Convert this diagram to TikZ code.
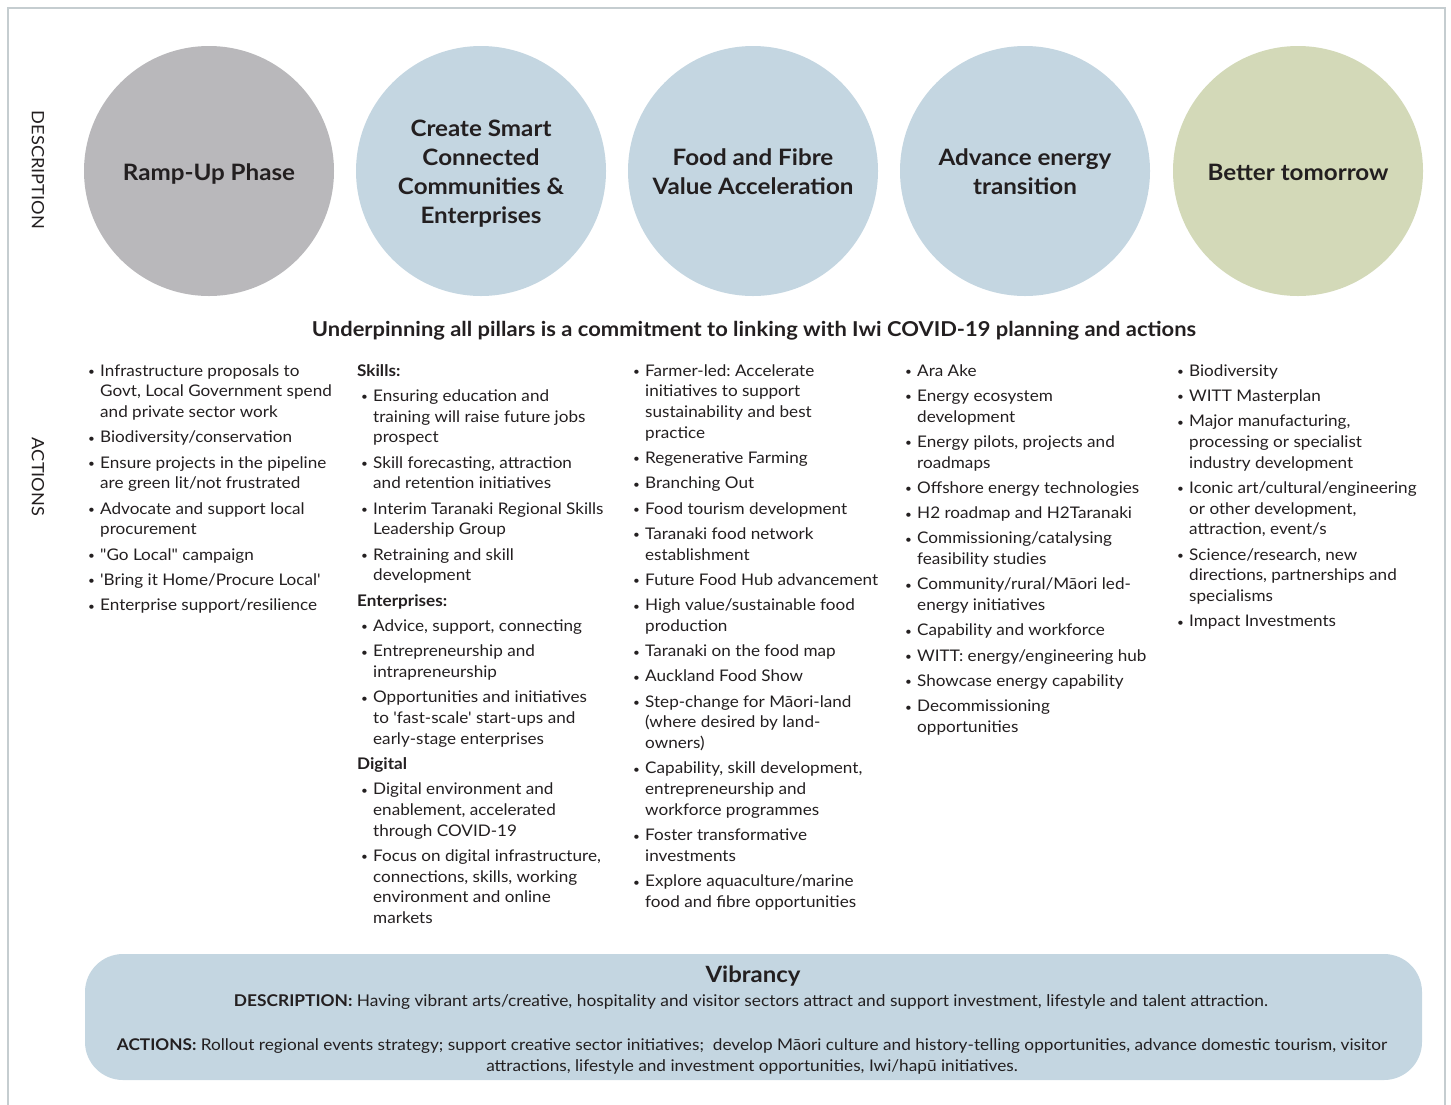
\documentclass[tikz,border=0pt]{standalone}
\usepackage{fontspec}
\newfontfamily\lat{Lato}[FakeStretch=1.07]
\definecolor{txt}{HTML}{231F20}
\definecolor{greyc}{HTML}{B9B8BB}
\definecolor{bluec}{HTML}{C4D6E1}
\definecolor{greenc}{HTML}{D3D9B8}
\definecolor{framec}{HTML}{C5CDD0}
\frenchspacing
\newcommand\bul{\makebox[16pt][l]{\hspace{4pt}\raisebox{0.6pt}{\fontsize{11}{11}\selectfont •}}}
\newcommand\itm[1]{\par\hangindent=16pt\hangafter=1\noindent\bul#1}
\newcommand\hdr[1]{\par\noindent\textbf{#1}}
\newcommand\colbox[1]{\parbox[t]{265pt}{\frenchspacing\fontsize{16}{20.7}\selectfont\parskip=4.6pt\raggedright#1\par}}
\begin{document}
\begin{tikzpicture}[x=1pt,y=-1pt,
  every node/.style={font=\lat, text=txt, inner sep=0pt},
  pillar/.style={circle, minimum size=250pt},
  pillartxt/.style={align=center, font=\lat\bfseries\fontsize{22.6}{29}\selectfont},
  sidelbl/.style={rotate=-90, font=\lat\fontsize{17}{20}\selectfont},
  listcol/.style={anchor=base west}]
\useasboundingbox (0,0) rectangle (1451,1104);
\draw[framec, line width=1.3pt] (8,1110) -- (8,8) -- (1445,8) -- (1445,1110);

\node[sidelbl] (sdesc) at (38,170) {DESCRIPTION};
\node[sidelbl] (sact) at (38,477) {ACTIONS};

\node[pillar, fill=greyc] (c1) at (209,171) {};
\node[pillar, fill=bluec] (c2) at (481,171) {};
\node[pillar, fill=bluec] (c3) at (753,171) {};
\node[pillar, fill=bluec] (c4) at (1025,171) {};
\node[pillar, fill=greenc] (c5) at (1298,171) {};
\node[pillartxt] (t1) at ([yshift=-2.5pt]c1.center) {Ramp-Up Phase};
\node[pillartxt] (t2) at ([yshift=-3pt]c2.center) {Create Smart\\Connected\\Communities \&\\Enterprises};
\node[pillartxt] (t3) at ([yshift=-0.5pt]c3.center) {Food and Fibre\\Value Acceleration};
\node[pillartxt] (t4) at ([yshift=-0.5pt]c4.center) {Advance energy\\transition};
\node[pillartxt] (t5) at ([yshift=-1.5pt]c5.center) {Better tomorrow};

\node[font=\lat\bfseries\fontsize{20.5}{24}\selectfont] (under) at (754,331) {Underpinning all pillars is a commitment to linking with Iwi COVID-19 planning and actions};

\node[listcol] (l1) at (84,376) {\colbox{%
\itm{Infrastructure proposals to\newline Govt, Local Government spend\newline and private sector work}
\itm{Biodiversity/conservation}
\itm{Ensure projects in the pipeline\newline are green lit/not frustrated}
\itm{Advocate and support local\newline procurement}
\itm{"Go Local" campaign}
\itm{'Bring it Home/Procure Local'}
\itm{Enterprise support/resilience}}};

\node[listcol] (l2) at (357,376) {\colbox{%
\hdr{Skills:}
\itm{Ensuring education and\newline training will raise future jobs\newline prospect}
\itm{Skill forecasting, attraction\newline and retention initiatives}
\itm{Interim Taranaki Regional Skills\newline Leadership Group}
\itm{Retraining and skill\newline development}
\hdr{Enterprises:}
\itm{Advice, support, connecting}
\itm{Entrepreneurship and\newline intrapreneurship}
\itm{Opportunities and initiatives\newline to 'fast-scale' start-ups and\newline early-stage enterprises}
\hdr{Digital}
\itm{Digital environment and\newline enablement, accelerated\newline through COVID-19}
\itm{Focus on digital infrastructure,\newline connections, skills, working\newline environment and online\newline markets}}};

\node[listcol] (l3) at (629,376) {\colbox{%
\itm{Farmer-led: Accelerate\newline initiatives to support\newline sustainability and best\newline practice}
\itm{Regenerative Farming}
\itm{Branching Out}
\itm{Food tourism development}
\itm{Taranaki food network\newline establishment}
\itm{Future Food Hub advancement}
\itm{High value/sustainable food\newline production}
\itm{Taranaki on the food map}
\itm{Auckland Food Show}
\itm{Step-change for Māori-land\newline (where desired by land-\newline owners)}
\itm{Capability, skill development,\newline entrepreneurship and\newline workforce programmes}
\itm{Foster transformative\newline investments}
\itm{Explore aquaculture/marine\newline food and fibre opportunities}}};

\node[listcol] (l4) at (901,376) {\colbox{%
\itm{Ara Ake}
\itm{Energy ecosystem\newline development}
\itm{Energy pilots, projects and\newline roadmaps}
\itm{Offshore energy technologies}
\itm{H2 roadmap and H2Taranaki}
\itm{Commissioning/catalysing\newline feasibility studies}
\itm{Community/rural/Māori led-\newline energy initiatives}
\itm{Capability and workforce}
\itm{WITT: energy/engineering hub}
\itm{Showcase energy capability}
\itm{Decommissioning\newline opportunities}}};

\node[listcol] (l5) at (1173,376) {\colbox{%
\itm{Biodiversity}
\itm{WITT Masterplan}
\itm{Major manufacturing,\newline processing or specialist\newline industry development}
\itm{Iconic art/cultural/engineering\newline or other development,\newline attraction, event/s}
\itm{Science/research, new\newline directions, partnerships and\newline specialisms}
\itm{Impact Investments}}};

\node[fill=bluec, rounded corners=38pt, minimum width=1337pt, minimum height=126pt] (vib) at (753.5,1017) {};
\node[font=\lat\bfseries\fontsize{22.4}{26}\selectfont] (vibt) at (753,976) {Vibrancy};
\node[font=\lat\fontsize{16.2}{21}\selectfont] (vibd) at (751,1002) {\textbf{DESCRIPTION:} Having vibrant arts/creative, hospitality and visitor sectors attract and support investment, lifestyle and talent attraction.};
\node[font=\lat\fontsize{16.1}{21}\selectfont, align=center] (viba) at (752,1056.5) {\textbf{ACTIONS:} Rollout regional events strategy; support creative sector initiatives;\ \ develop Māori culture and history-telling opportunities, advance domestic tourism, visitor\\attractions, lifestyle and investment opportunities, Iwi/hapū initiatives.};
\end{tikzpicture}
\end{document}
